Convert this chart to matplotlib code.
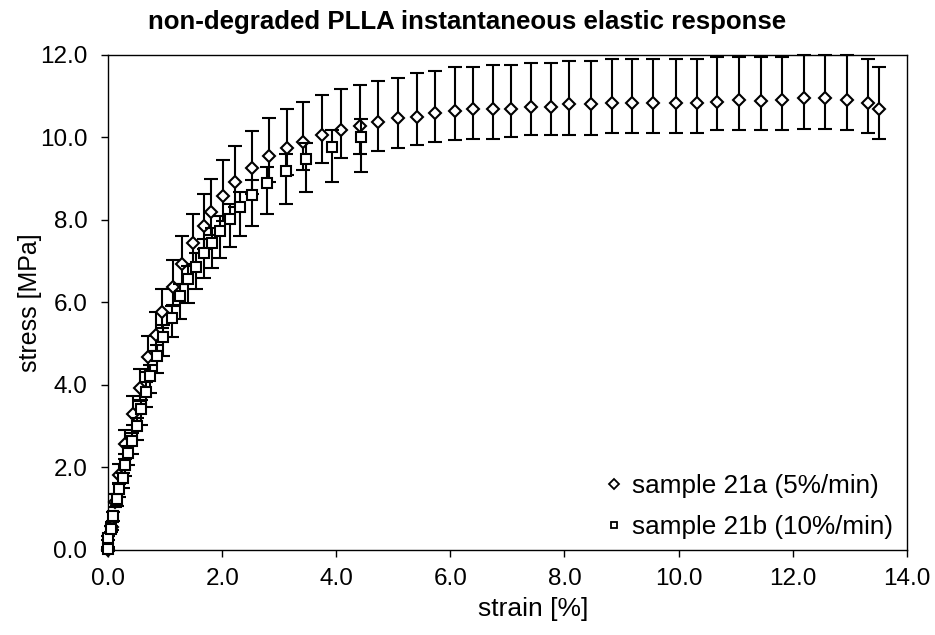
import numpy as np
import matplotlib.pyplot as plt
from matplotlib.lines import Line2D

plt.rcParams['font.family'] = ['Liberation Sans', 'DejaVu Sans']

# sample 21a (5%/min) - diamonds
a_strain = [0.0, 0.06, 0.12, 0.19, 0.29, 0.43, 0.56, 0.70, 0.84, 0.95,
            1.13, 1.30, 1.49, 1.67, 1.81, 2.01, 2.22, 2.52, 2.81, 3.13,
            3.41, 3.75, 4.08, 4.41, 4.73, 5.08, 5.41, 5.73, 6.08, 6.39,
            6.75, 7.06, 7.41, 7.76, 8.08, 8.46, 8.84, 9.18, 9.56, 9.95,
            10.32, 10.67, 11.06, 11.44, 11.82, 12.20, 12.57, 12.95, 13.33, 13.51]
a_stress = [0.0, 0.55, 1.15, 1.80, 2.55, 3.30, 3.92, 4.66, 5.20, 5.77,
            6.38, 6.93, 7.43, 7.85, 8.19, 8.58, 8.92, 9.25, 9.55, 9.74,
            9.88, 10.06, 10.17, 10.28, 10.37, 10.46, 10.50, 10.60, 10.65, 10.70,
            10.70, 10.70, 10.75, 10.75, 10.81, 10.80, 10.84, 10.84, 10.84, 10.84,
            10.84, 10.86, 10.90, 10.88, 10.90, 10.96, 10.96, 10.90, 10.84, 10.68]
a_err_up = [0.05, 0.12, 0.20, 0.28, 0.35, 0.42, 0.45, 0.53, 0.56, 0.55,
            0.65, 0.68, 0.71, 0.78, 0.81, 0.86, 0.87, 0.91, 0.92, 0.95,
            0.99, 0.97, 1.01, 0.99, 1.00, 0.99, 1.06, 1.01, 1.05, 1.00,
            1.06, 1.06, 1.05, 1.05, 1.05, 1.06, 1.06, 1.06, 1.06, 1.06,
            1.06, 1.09, 1.05, 1.07, 1.05, 1.03, 1.03, 1.09, 1.06, 1.02]
a_err_lo = [0.03, 0.08, 0.13, 0.18, 0.23, 0.28, 0.31, 0.36, 0.39, 0.40,
            0.45, 0.48, 0.50, 0.55, 0.57, 0.60, 0.61, 0.63, 0.64, 0.65,
            0.66, 0.67, 0.67, 0.69, 0.69, 0.72, 0.68, 0.72, 0.71, 0.73,
            0.73, 0.68, 0.70, 0.70, 0.75, 0.73, 0.73, 0.73, 0.73, 0.73,
            0.73, 0.69, 0.73, 0.71, 0.73, 0.75, 0.75, 0.73, 0.73, 0.71]

# sample 21b (10%/min) - squares
b_strain = [0.0, 0.0, 0.04, 0.09, 0.15, 0.19, 0.25, 0.29, 0.35, 0.42,
            0.50, 0.57, 0.67, 0.73, 0.85, 0.96, 1.12, 1.26, 1.40, 1.54,
            1.67, 1.82, 1.96, 2.13, 2.31, 2.52, 2.79, 3.11, 3.46, 3.93, 4.43]
b_stress = [0.01, 0.27, 0.51, 0.81, 1.23, 1.47, 1.73, 2.05, 2.35, 2.64,
            3.00, 3.40, 3.83, 4.22, 4.70, 5.16, 5.61, 6.15, 6.56, 6.86,
            7.20, 7.45, 7.74, 8.02, 8.31, 8.60, 8.90, 9.19, 9.47, 9.76, 10.00]
b_err_up = [0.03, 0.05, 0.07, 0.09, 0.11, 0.12, 0.13, 0.15, 0.16, 0.18,
            0.20, 0.22, 0.24, 0.25, 0.27, 0.28, 0.30, 0.30, 0.32, 0.33,
            0.34, 0.35, 0.36, 0.36, 0.37, 0.37, 0.38, 0.40, 0.40, 0.41, 0.45]
b_err_lo = [0.02, 0.05, 0.09, 0.12, 0.17, 0.20, 0.23, 0.27, 0.30, 0.33,
            0.35, 0.37, 0.37, 0.41, 0.41, 0.46, 0.46, 0.56, 0.57, 0.54,
            0.62, 0.61, 0.66, 0.69, 0.70, 0.75, 0.76, 0.80, 0.79, 0.85, 0.84]

labels = ['sample 21a (5%/min)', 'sample 21b (10%/min)']

fig = plt.figure(figsize=(9.35, 6.35), dpi=100)
ax = fig.add_axes([0.1158, 0.1346, 0.8539, 0.7788])

ax.errorbar(a_strain, a_stress, yerr=[a_err_lo, a_err_up], fmt='D', ms=6.5,
            mfc='white', mec='black', mew=1.5, ecolor='black', elinewidth=1.5,
            capsize=4.7, capthick=1.5, clip_on=False, zorder=3)
ax.errorbar(b_strain, b_stress, yerr=[b_err_lo, b_err_up], fmt='s', ms=6.5,
            mfc='white', mec='black', mew=1.5, ecolor='black', elinewidth=1.5,
            capsize=4.7, capthick=1.5, clip_on=False, zorder=4)

ax.set_xlim(0, 14)
ax.set_ylim(0, 12)
ax.set_xticks(np.arange(0, 14.1, 2))
ax.set_yticks(np.arange(0, 12.1, 2))
ax.xaxis.set_major_formatter(plt.FormatStrFormatter('%.1f'))
ax.yaxis.set_major_formatter(plt.FormatStrFormatter('%.1f'))
ax.tick_params(direction='out', length=5, width=1, labelsize=17.5)
ax.tick_params(axis='x', pad=8)
ax.tick_params(axis='y', pad=10)
for s in ax.spines.values():
    s.set_linewidth(1)

ax.set_xlabel('strain [%]', fontsize=19)
ax.xaxis.set_label_coords(0.532, -0.097)
ax.set_ylabel('stress [MPa]', fontsize=18)
ax.yaxis.set_label_coords(-0.083, 0.5)
fig.text(0.5, 0.965, 'non-degraded PLLA instantaneous elastic response',
         fontsize=18.6, fontweight='bold', ha='center', va='center')

handles = [Line2D([], [], marker='D', ls='none', ms=5, mfc='white', mec='black', mew=1.3),
           Line2D([], [], marker='s', ls='none', ms=5, mfc='white', mec='black', mew=1.3)]
ax.legend(handles, labels, loc='lower right', bbox_to_anchor=(0.999, -0.006),
          frameon=False, fontsize=18.8, handlelength=0.6, handletextpad=0.4,
          labelspacing=0.65, borderpad=0)

fig.savefig('out.png', dpi=100)
